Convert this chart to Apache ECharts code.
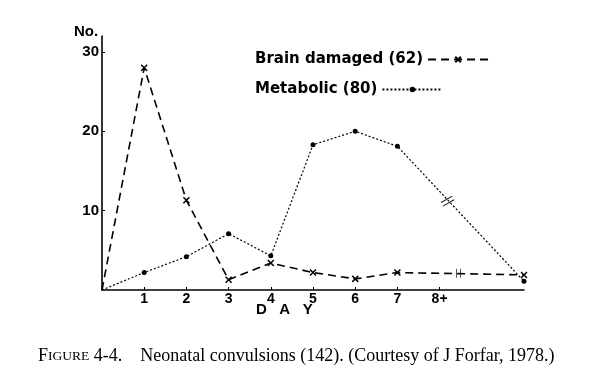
<!DOCTYPE html>
<html>
<head>
	<meta charset="utf-8">
	<title>Neonatal convulsions</title>
</head>
<body style="margin:0;background:#fff;">
<script type="text/javascript" src="https://cdn.jsdelivr.net/npm/echarts@6/dist/echarts.min.js"></script>
<div id="container" style="width: 600px;height: 377px;"></div>
<script type="text/javascript">
	// day positions (8+ drawn at 8, last point after the axis break)
	var days = [0, 1, 2, 3, 4, 5, 6, 7, 10];
	var brainDamaged = [0, 28, 11.3, 1.3, 3.4, 2.2, 1.4, 2.2, 1.9];
	var metabolic = [0, 2.2, 4.2, 7.1, 4.3, 18.3, 20, 18.1, 1.1];
	var dayTicks = [1, 2, 3, 4, 5, 6, 7, 8];
	var dayLabels = ['1', '2', '3', '4', '5', '6', '7', '8+'];
	var countTicks = [10, 20, 30];
	// where the "break" marks sit on each line
	var brainBreak = [8.45, 2.1];
	var metabolicBreak = [8.19, 11.2];

	var cross = 'path://M0,0 L10,10 M10,0 L0,10';

	function pairs(ys) {
		var out = [];
		for (var i = 0; i < days.length; i++) {
			if (i == 0) {
				out.push({ value: [days[i], ys[i]], symbol: 'none' });
			} else {
				out.push([days[i], ys[i]]);
			}
		}
		return out;
	}

	// one legend per entry so both start at the same left edge
	function legendFor(name, top) {
		return {
			orient: 'vertical',
			left: 250,
			top: top,
			align: 'right',
			itemWidth: 60,
			itemHeight: 7,
			textStyle: { fontFamily: 'DejaVu Sans', fontWeight: 'bold', fontSize: 15, color: '#000' },
			data: [name]
		};
	}

	var myChart = echarts.init(document.getElementById('container'));
	var boldSans = 'Liberation Sans';
	var option = {
		animation: false,
		backgroundColor: '#fff',
		grid: { left: 102, right: 76, top: 36, bottom: 87 },
		legend: [legendFor('Brain damaged (62)', 47), legendFor('Metabolic (80)', 77)],
		xAxis: {
			type: 'value',
			min: 0,
			max: 10,
			splitLine: { show: false },
			axisLine: { lineStyle: { color: '#000', width: 1.6 } },
			axisTick: { inside: true, length: 3, customValues: dayTicks, lineStyle: { color: '#000' } },
			axisLabel: {
				customValues: dayTicks,
				margin: 2,
				color: '#000',
				fontFamily: boldSans,
				fontWeight: 'bold',
				fontSize: 14,
				formatter: function (v) { return dayLabels[dayTicks.indexOf(v)]; }
			}
		},
		yAxis: {
			type: 'value',
			min: 0,
			max: 32,
			splitLine: { show: false },
			axisLine: { show: true, lineStyle: { color: '#000', width: 1.6 } },
			axisTick: { show: true, inside: true, length: 3, customValues: countTicks, lineStyle: { color: '#000' } },
			axisLabel: {
				customValues: countTicks,
				margin: 3,
				color: '#000',
				fontFamily: boldSans,
				fontWeight: 'bold',
				fontSize: 15
			}
		},
		series: [
			{
				name: 'Brain damaged (62)',
				type: 'line',
				data: pairs(brainDamaged),
				symbol: cross,
				symbolSize: 6,
				itemStyle: { color: 'transparent', borderColor: '#000', borderWidth: 1.5 },
				lineStyle: { color: '#000', width: 1.6, type: [8, 5] }
			},
			{
				name: 'Metabolic (80)',
				type: 'line',
				data: pairs(metabolic),
				symbol: 'circle',
				symbolSize: 5,
				itemStyle: { color: '#000' },
				lineStyle: { color: '#000', width: 1.2, type: [2, 2] }
			},
			{
				type: 'scatter',
				data: [brainBreak],
				symbol: 'path://M0,0 L0,10 M4,0 L4,10',
				symbolSize: [4, 9],
				itemStyle: { color: 'transparent', borderColor: '#000', borderWidth: 1.2 },
				z: 5
			},
			{
				type: 'scatter',
				data: [metabolicBreak],
				symbol: 'path://M0,7 L12,0 M2,11 L14,4',
				symbolSize: [13, 10],
				itemStyle: { color: 'transparent', borderColor: '#000', borderWidth: 1.2 },
				z: 5
			}
		],
		graphic: [
			{
				type: 'text', left: 74, top: 24,
				style: { text: 'No.', fontFamily: boldSans, fontWeight: 'bold', fontSize: 15, fill: '#000' }
			},
			{
				type: 'text', left: 256, top: 302,
				style: { text: 'D   A   Y', fontFamily: boldSans, fontWeight: 'bold', fontSize: 15, fill: '#000' }
			},
			{
				type: 'text', left: 38, top: 347,
				style: {
					text: '{a|F}{b|IGURE}{a| 4-4.    Neonatal convulsions (142). (Courtesy of J Forfar, 1978.)}',
					rich: {
						a: { fontFamily: 'Liberation Serif', fontSize: 18, fill: '#000' },
						b: { fontFamily: 'Liberation Serif', fontSize: 13.5, fill: '#000' }
					}
				}
			}
		]
	};
	myChart.setOption(option);

	window.addEventListener('resize', myChart.resize);
</script>

</body>
</html>
